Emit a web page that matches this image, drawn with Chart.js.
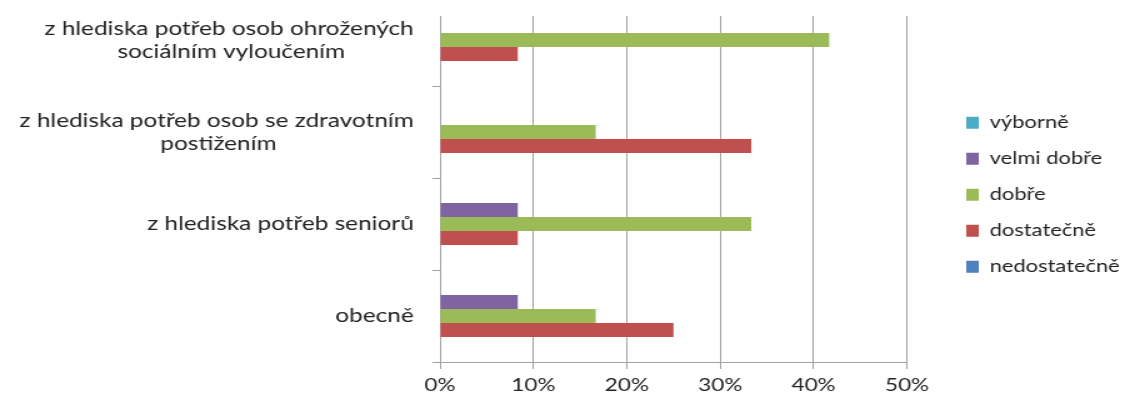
<!DOCTYPE html>
<html>
<head>
<meta charset="utf-8">
<script src="https://cdn.jsdelivr.net/npm/chart.js@4/dist/chart.umd.min.js"></script>
<style>
  html, body { margin: 0; padding: 0; background: #fff; overflow: hidden; width: 1124px; height: 399px; }
  #wrap { position: absolute; left: 0; top: -20px; width: 899px; height: 419px; transform: scaleX(1.25); transform-origin: 0 0; }
</style>
</head>
<body>
<div id="wrap"><canvas id="c" width="899" height="419"></canvas></div>
<script>
// ---- data ----
const categories = [
  ["z hlediska potřeb osob ohrožených", "sociálním vyloučením"],
  ["z hlediska potřeb osob se zdravotním", "postižením"],
  ["z hlediska potřeb seniorů"],
  ["obecně"]
];
const seriesNames = ["výborně", "velmi dobře", "dobře", "dostatečně", "nedostatečně"];
const vyborne      = [0, 0, 0, 0];
const velmiDobre   = [0, 0, 8.33, 8.33];
const dobre        = [41.67, 16.67, 33.33, 16.67];
const dostatecne   = [8.33, 33.33, 8.33, 25];
const nedostatecne = [0, 0, 0, 0];
const xTicks = [0, 10, 20, 30, 40, 50];

// ---- styles ----
const colors = ["#4BACC6", "#8064A2", "#9BBB59", "#C0504D", "#4F81BD"];
const catFont = { family: "Lato", size: 19.5 };
const legFont = { family: "Lato", size: 17.5 };
const tickFont = { family: "Lato", size: 18 };
const gridColor = "#a0a0a0";

const mctx = document.createElement("canvas").getContext("2d");
function centerLines(lines) {
  mctx.font = catFont.size + "px " + catFont.family;
  const ws = lines.map(l => mctx.measureText(l).width);
  const max = Math.max(...ws);
  const sp = mctx.measureText(" ").width;
  return lines.map((l, i) => l + " ".repeat(Math.round((max - ws[i]) / 2 / sp)));
}
const labels = categories.map(centerLines);

const legBox = 10, legPad = 18.5;
const layoutCfg = { padRight: -5, spacerW: 40 };
const targetPlotRight = 725.6;   // 50% gridline (unscaled px)
const targetLegendRight = 896;    // right end of legend text (unscaled px)

const seriesData = [vyborne, velmiDobre, dobre, dostatecne, nedostatecne];

const coverTop = {
  id: "coverTop",
  beforeDatasetsDraw(chart) {
    const { ctx, chartArea: a } = chart;
    ctx.save();
    ctx.fillStyle = "#fff";
    ctx.fillRect(a.left - 2, a.top - 2, a.right - a.left + 4, Math.max(0, 36 - a.top + 2));
    ctx.restore();
  }
};

Chart.defaults.color = "#222";
const chart = new Chart(document.getElementById("c"), {
  type: "bar",
  data: {
    labels: labels,
    datasets: seriesNames.map((n, i) => ({
      label: n,
      data: seriesData[i],
      backgroundColor: colors[i],
      borderWidth: 0,
      categoryPercentage: 70 / 92,
      barPercentage: 1
    }))
  },
  options: {
    indexAxis: "y",
    responsive: false,
    animation: false,
    devicePixelRatio: 1,
    layout: { padding: { top: 14, bottom: 3.4, left: 0, right: layoutCfg.padRight } },
    plugins: {
      tooltip: { enabled: false },
      legend: {
        position: "right",
        labels: { boxWidth: legBox, boxHeight: 12, padding: legPad, font: legFont, color: "#222" }
      }
    },
    scales: {
      x: {
        min: 0, max: 50,
        afterBuildTicks(s) { s.ticks = xTicks.map(v => ({ value: v })); },
        afterFit(s) { s.height = 33.6; s.paddingLeft = 0; s.paddingRight = 0; },
        ticks: { font: tickFont, padding: 5, callback: v => v + "%", color: "#222" },
        grid: { color: gridColor, lineWidth: 1, tickLength: 7, drawTicks: true },
        border: { color: gridColor, width: 1 }
      },
      y: {
        afterFit(s) { s.width = 352; s.paddingTop = 0; s.paddingBottom = 0; },
        ticks: { font: catFont, padding: 15, color: "#222" },
        grid: { drawOnChartArea: false, drawTicks: true, tickLength: 6, color: gridColor, offset: true },
        border: { color: gridColor, width: 1 }
      },
      sp: {
        type: "linear",
        position: "right",
        display: true,
        grid: { display: false },
        ticks: { display: false },
        border: { display: false },
        afterFit(s) { s.width = layoutCfg.spacerW; s.paddingTop = 0; s.paddingBottom = 0; }
      }
    }
  },
  plugins: [coverTop]
});

// fine-tune the horizontal layout from the library's own measurements
const hb = chart.legend.legendHitBoxes;
const legRight = Math.max(...hb.map(b => b.left + b.width));
layoutCfg.padRight += legRight - targetLegendRight;
chart.options.layout.padding.right = layoutCfg.padRight;
chart.update();
layoutCfg.spacerW += chart.chartArea.right - targetPlotRight;
chart.update();
</script>
</body>
</html>
